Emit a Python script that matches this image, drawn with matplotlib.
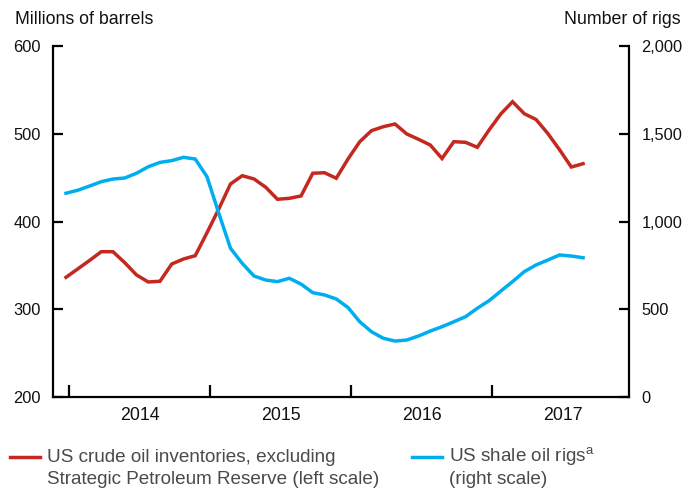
import matplotlib
matplotlib.use('Agg')
import matplotlib.pyplot as plt
from matplotlib.lines import Line2D

plt.rcParams['font.family'] = ['Liberation Sans', 'DejaVu Sans']
plt.rcParams['mathtext.fontset'] = 'custom'
plt.rcParams['mathtext.rm'] = 'Liberation Sans'

# Monthly observations, Jan 2014 .. Sep 2017 (index 0 = Jan 2014)
months = list(range(45))
inventories = [336.5, 346.1, 355.7, 365.7, 365.7, 353.2, 339.2, 331.2, 332.0, 351.7,
               357.4, 361.2, 387.4, 414.4, 443.0, 452.4, 448.7, 439.2, 425.5, 426.6,
               429.3, 455.2, 455.8, 449.5, 471.5, 491.2, 503.8, 508.3, 511.4, 500.0,
               493.9, 487.4, 472.0, 491.2, 490.5, 484.8, 504.5, 522.8, 536.8, 523.1,
               516.5, 500.6, 482.0, 462.3, 466.1]
rigs = [1162, 1179, 1203, 1228, 1243, 1249, 1276, 1313, 1338, 1348,
        1367, 1357, 1256, 1048, 848, 762, 690, 667, 658, 677,
        644, 595, 582, 559, 510, 429, 372, 335, 319, 325,
        348, 376, 401, 429, 458, 506, 549, 604, 658, 715,
        753, 781, 810, 804, 794]
year_labels = ['2014', '2015', '2016', '2017']
left_ticks = [200, 300, 400, 500, 600]
right_ticks = [0, 500, 1000, 1500, 2000]
right_tick_labels = ['0', '500', '1,000', '1,500', '2,000']

RED = '#C4281F'
BLUE = '#00AEEF'
LFS = 13.6   # legend
TFS = 11.8   # y tick labels
XFS = 12.8   # year labels / axis titles

W, H = 684, 492
fig = plt.figure(figsize=(W / 100, H / 100), dpi=100)
x0, x1, yb, yt = 53, 629, 397, 46.3
ax = fig.add_axes([x0 / W, 1 - yb / H, (x1 - x0) / W, (yb - yt) / H])
ax2 = ax.twinx()

ax.plot(months, inventories, color=RED, lw=2.5, solid_joinstyle='miter', zorder=3)
ax2.plot(months, rigs, color=BLUE, lw=2.5, solid_joinstyle='miter', zorder=3)

ax.set_xlim(-1.106, 47.91)
ax.set_ylim(200, 600)
ax2.set_ylim(0, 2000)

for a in (ax, ax2):
    a.spines['top'].set_visible(False)
    for s in a.spines.values():
        s.set_linewidth(1.6)
ax.spines['right'].set_visible(False)
ax2.spines['left'].set_visible(False)
ax2.spines['bottom'].set_visible(False)

ax.set_yticks(left_ticks)
ax.set_yticklabels([str(v) for v in left_ticks])
ax2.set_yticks(right_ticks)
ax2.set_yticklabels(right_tick_labels)

boundaries = [0.25 + 12 * k for k in range(4)]
mids = [6.25 + 12 * k for k in range(4)]
ax.set_xticks(boundaries)
ax.set_xticklabels([])
ax.set_xticks(mids, minor=True)
ax.set_xticklabels(year_labels, minor=True)

ax.tick_params(axis='x', which='major', direction='in', length=9, width=1.6)
ax.tick_params(axis='x', which='minor', length=0, labelsize=XFS, pad=7, colors='#111111')
ax.tick_params(axis='y', direction='in', length=7, width=1.6, labelsize=TFS, pad=9,
               colors='#111111')
ax2.tick_params(axis='y', direction='in', length=7, width=1.6, labelsize=TFS, pad=9,
                colors='#111111')
for a in (ax, ax2):
    a.tick_params(axis='both', color='black')

fig.text(15 / W, 1 - 20 / H, 'Millions of barrels', fontsize=XFS, ha='left',
         va='center', color='#111111')
fig.text(681 / W, 1 - 20 / H, 'Number of rigs', fontsize=XFS, ha='right',
         va='center', color='#111111')

# Legend
LEG = '#4a4a4a'
fig.add_artist(Line2D([10 / W, 40 / W], [1 - 457 / H, 1 - 457 / H], color=RED, lw=2.5))
fig.text(47 / W, 1 - 457 / H, 'US crude oil inventories, excluding', fontsize=LFS,
         ha='left', va='center', color=LEG)
fig.text(47 / W, 1 - 480 / H, 'Strategic Petroleum Reserve (left scale)', fontsize=LFS,
         ha='left', va='center', color=LEG)
fig.add_artist(Line2D([412 / W, 442 / W], [1 - 457 / H, 1 - 457 / H], color=BLUE, lw=2.5))
fig.text(449 / W, 1 - 457 / H, r'US shale oil rigs$^{\mathrm{a}}$', fontsize=LFS,
         ha='left', va='center', color=LEG)
fig.text(449 / W, 1 - 480 / H, '(right scale)', fontsize=LFS,
         ha='left', va='center', color=LEG)

fig.savefig('out.png', dpi=100)
